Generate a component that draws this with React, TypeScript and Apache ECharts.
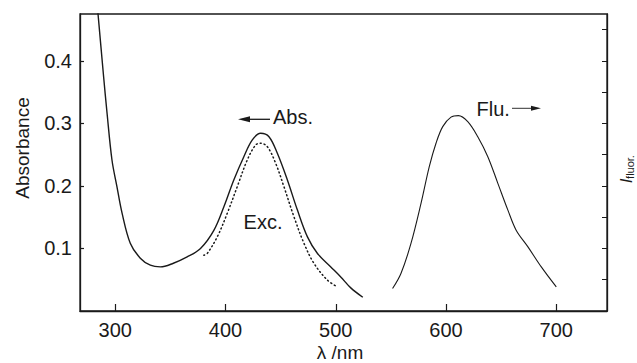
import React, { useEffect, useRef } from "react";
import * as echarts from "echarts";

// Absorption spectrum (solid)
const absNm = [283.2, 289.4, 292.5, 297.0, 301.5, 306.1, 313.6, 322.7, 331.8, 340.9, 352.7, 365.2, 377.3, 389.4, 398.5, 407.5, 416.6, 424.3, 431.8, 439.4, 447.0, 456.1, 465.2, 474.3, 483.4, 495.5, 504.5, 513.6, 524.5];
const absVal = [0.498, 0.375, 0.317, 0.2415, 0.199, 0.157, 0.1085, 0.0845, 0.0732, 0.0705, 0.0764, 0.0865, 0.1, 0.129, 0.1667, 0.2095, 0.2468, 0.2736, 0.2843, 0.2788, 0.2522, 0.2095, 0.1614, 0.1186, 0.092, 0.0705, 0.0545, 0.037, 0.022];

// Excitation spectrum (dotted)
const excNm = [380.3, 383.4, 392.5, 401.5, 410.6, 419.7, 427.3, 431.8, 437.9, 445.5, 453.0, 462.1, 471.2, 480.3, 492.5, 501.5];
const excVal = [0.0893, 0.092, 0.1186, 0.156, 0.1987, 0.2415, 0.2655, 0.2683, 0.2628, 0.2362, 0.1987, 0.1506, 0.108, 0.076, 0.0492, 0.0385];

// Fluorescence spectrum (solid, right axis)
const fluNm = [551.5, 559.1, 568.2, 577.3, 584.8, 590.9, 597.0, 604.5, 611.2, 619.7, 628.8, 637.9, 647.0, 656.1, 663.6, 674.3, 686.4, 700.0];
const fluVal = [0.0359, 0.06, 0.108, 0.172, 0.2308, 0.2683, 0.2949, 0.31, 0.3125, 0.3029, 0.2788, 0.2468, 0.2042, 0.1614, 0.1293, 0.1026, 0.0705, 0.0385];

const xTickValues = [300, 400, 500, 600, 700];
const yTickValues = [0.1, 0.2, 0.3, 0.4];
const fluorTickValues = [0.05, 0.1, 0.15, 0.2, 0.25, 0.3, 0.35, 0.4, 0.45];

const pairs = (xs: number[], ys: number[]) => xs.map((x, i) => [x, ys[i]]);

export default function App() {
  const ref = useRef<HTMLDivElement>(null);
  useEffect(() => {
    const chart = echarts.init(ref.current!, null, { renderer: "svg" });
    const font = "'Liberation Sans', Arial, Helvetica, sans-serif";
    const ink = "#1a1a1a";
    chart.setOption({
      animation: false,
      grid: {
        left: 80,
        right: 30,
        top: 14,
        bottom: 52,
        show: true,
        borderColor: ink,
        borderWidth: 1.3,
        backgroundColor: "transparent",
      },
      xAxis: {
        type: "value",
        min: 268,
        max: 746,
        axisLine: { show: true, lineStyle: { color: ink, width: 1.3 } },
        splitLine: { show: false },
        axisTick: {
          inside: true,
          length: 7,
          customValues: xTickValues,
          lineStyle: { color: ink, width: 1.2 },
        },
        axisLabel: {
          customValues: xTickValues,
          margin: 9,
          fontSize: 20,
          color: ink,
          fontFamily: font,
        },
      },
      yAxis: [
        {
          type: "value",
          min: 0,
          max: 0.475,
          axisLine: { show: true, lineStyle: { color: ink, width: 1.3 } },
          splitLine: { show: false },
          axisTick: {
            inside: true,
            length: 4,
            customValues: yTickValues,
            lineStyle: { color: ink, width: 1.2 },
          },
          axisLabel: {
            customValues: yTickValues,
            margin: 8,
            fontSize: 20,
            color: ink,
            fontFamily: font,
            formatter: (v: number) => v.toFixed(1),
          },
        },
        {
          type: "value",
          position: "right",
          min: 0,
          max: 0.475,
          axisLine: { show: true, lineStyle: { color: ink, width: 1.3 } },
          splitLine: { show: false },
          axisTick: {
            inside: true,
            length: 5,
            customValues: fluorTickValues,
            lineStyle: { color: ink, width: 1 },
          },
          axisLabel: { show: false },
        },
      ],
      series: [
        {
          name: "Abs.",
          type: "line",
          data: pairs(absNm, absVal),
          showSymbol: false,
          smooth: 0.35,
          clip: true,
          lineStyle: { color: ink, width: 1.4 },
        },
        {
          name: "Exc.",
          type: "line",
          data: pairs(excNm, excVal),
          showSymbol: false,
          smooth: 0.35,
          lineStyle: { color: ink, width: 1.5, type: [1, 3], cap: "round" },
        },
        {
          name: "Flu.",
          type: "line",
          yAxisIndex: 1,
          data: pairs(fluNm, fluVal),
          showSymbol: false,
          smooth: 0.35,
          lineStyle: { color: ink, width: 1.1 },
        },
      ],
      graphic: [
        {
          type: "text",
          x: 22,
          y: 148,
          rotation: Math.PI / 2,
          style: {
            text: "Absorbance",
            fontSize: 19,
            fontFamily: font,
            fill: ink,
            align: "center",
            verticalAlign: "middle",
          },
        },
        {
          type: "text",
          x: 340,
          y: 352,
          style: {
            text: "λ /nm",
            fontSize: 19,
            fontFamily: font,
            fill: ink,
            align: "center",
            verticalAlign: "middle",
          },
        },
        {
          type: "text",
          x: 626,
          y: 181,
          rotation: Math.PI / 2,
          style: {
            text: "I",
            fontSize: 17,
            fontStyle: "italic",
            fontFamily: font,
            fill: ink,
            align: "center",
            verticalAlign: "middle",
          },
        },
        {
          type: "text",
          x: 630,
          y: 167,
          rotation: Math.PI / 2,
          style: {
            text: "fluor.",
            fontSize: 11,
            fontFamily: font,
            fill: ink,
            align: "center",
            verticalAlign: "middle",
          },
        },
        {
          type: "text",
          x: 273,
          y: 116.5,
          style: {
            text: "Abs.",
            fontSize: 20,
            fontFamily: font,
            fill: ink,
            align: "left",
            verticalAlign: "middle",
          },
        },
        {
          type: "line",
          shape: { x1: 248, y1: 119.3, x2: 270, y2: 119.3 },
          style: { stroke: ink, lineWidth: 1.3 },
        },
        {
          type: "polygon",
          shape: { points: [[238, 119.3], [250, 116.3], [250, 122.3]] },
          style: { fill: ink },
        },
        {
          type: "text",
          x: 263,
          y: 222,
          style: {
            text: "Exc.",
            fontSize: 20,
            fontFamily: font,
            fill: ink,
            align: "center",
            verticalAlign: "middle",
          },
        },
        {
          type: "text",
          x: 476.5,
          y: 108.5,
          style: {
            text: "Flu.",
            fontSize: 20,
            fontFamily: font,
            fill: ink,
            align: "left",
            verticalAlign: "middle",
          },
        },
        {
          type: "line",
          shape: { x1: 512, y1: 108.3, x2: 533, y2: 108.3 },
          style: { stroke: ink, lineWidth: 0.9 },
        },
        {
          type: "polygon",
          shape: { points: [[541, 108.3], [531, 105.8], [531, 110.8]] },
          style: { fill: ink },
        },
      ],
    });
    return () => chart.dispose();
  }, []);
  return (
    <div
      ref={ref}
      style={{ position: "absolute", left: 0, top: 0, width: 637, height: 363 }}
    />
  );
}
